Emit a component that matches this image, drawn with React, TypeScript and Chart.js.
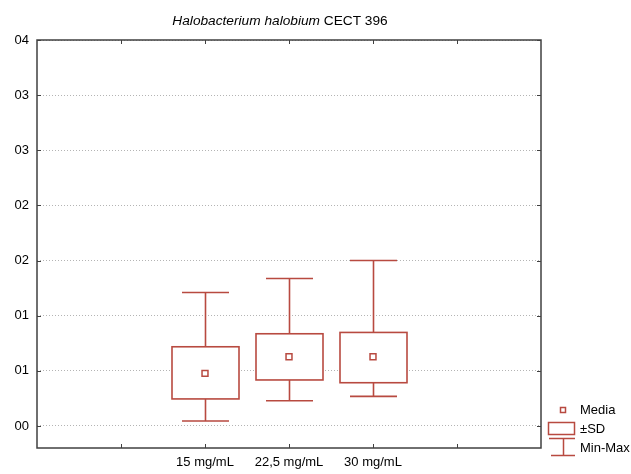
import React, { useEffect, useRef } from "react";
import { Chart, registerables } from "chart.js";

Chart.register(...registerables);

const categories = ["15 mg/mL", "22,5 mg/mL", "30 mg/mL"];
const meanValues = [0.00977, 0.01128, 0.01128];
const sdTopValues = [0.01218, 0.01336, 0.01348];
const sdBottomValues = [0.00745, 0.00917, 0.00892];
const maxValues = [0.0171, 0.01837, 0.02];
const minValues = [0.00545, 0.00729, 0.00768];

const yTickValues = [0.005, 0.01, 0.015, 0.02, 0.025, 0.03, 0.035, 0.04];
const yTickLabels = ["00", "01", "01", "02", "02", "03", "03", "04"];
const xTickValues = [-1, 0, 1, 2, 3];

const titleItalic = "Halobacterium halobium";
const titleRest = " CECT 396";
const legendLabels = ["Media", "±SD", "Min-Max"];

const RED = "#b84a40";
const AXIS = "#404040";
const FONT = "'Liberation Sans', Arial, sans-serif";
const TITLE_SIZE = 13.7;

const boxPlugin = {
  id: "boxWhisker",
  beforeDatasetsDraw(chart: any) {
    const { ctx, scales } = chart;
    const xs = scales.x;
    const ys = scales.y;
    ctx.save();
    ctx.strokeStyle = RED;
    ctx.lineWidth = 1.6;
    const boxHalf = 33.5;
    const capHalf = 23.5;
    categories.forEach((_, i) => {
      const cx = Math.round(xs.getPixelForValue(i)) + 0.5;
      const yMax = ys.getPixelForValue(maxValues[i]);
      const yMin = ys.getPixelForValue(minValues[i]);
      const yTop = ys.getPixelForValue(sdTopValues[i]);
      const yBot = ys.getPixelForValue(sdBottomValues[i]);
      ctx.beginPath();
      ctx.moveTo(cx, yTop);
      ctx.lineTo(cx, yMax);
      ctx.moveTo(cx - capHalf, yMax);
      ctx.lineTo(cx + capHalf, yMax);
      ctx.moveTo(cx, yBot);
      ctx.lineTo(cx, yMin);
      ctx.moveTo(cx - capHalf, yMin);
      ctx.lineTo(cx + capHalf, yMin);
      ctx.stroke();
      ctx.fillStyle = "#ffffff";
      ctx.fillRect(cx - boxHalf, yTop, boxHalf * 2, yBot - yTop);
      ctx.strokeRect(cx - boxHalf, yTop, boxHalf * 2, yBot - yTop);
    });
    ctx.restore();
  },
  afterDraw(chart: any) {
    const { ctx, chartArea, scales } = chart;
    const { left, right, top, bottom } = chartArea;
    ctx.save();
    // frame
    ctx.strokeStyle = AXIS;
    ctx.lineWidth = 1.5;
    ctx.strokeRect(left, top, right - left, bottom - top);
    // inward ticks
    ctx.lineWidth = 1;
    ctx.beginPath();
    xTickValues.forEach((v) => {
      const px = Math.round(scales.x.getPixelForValue(v)) + 0.5;
      ctx.moveTo(px, top);
      ctx.lineTo(px, top + 4);
      ctx.moveTo(px, bottom);
      ctx.lineTo(px, bottom - 4);
    });
    yTickValues.forEach((v) => {
      const py = Math.round(scales.y.getPixelForValue(v)) + 0.5;
      ctx.moveTo(left, py);
      ctx.lineTo(left + 4, py);
      ctx.moveTo(right, py);
      ctx.lineTo(right - 4, py);
    });
    ctx.stroke();

    // title
    ctx.fillStyle = "#000";
    ctx.textBaseline = "middle";
    ctx.textAlign = "left";
    ctx.font = `italic ${TITLE_SIZE}px ${FONT}`;
    const w1 = ctx.measureText(titleItalic).width;
    ctx.font = `${TITLE_SIZE}px ${FONT}`;
    const w2 = ctx.measureText(titleRest).width;
    const tx = 280 - (w1 + w2) / 2;
    ctx.font = `italic ${TITLE_SIZE}px ${FONT}`;
    ctx.fillText(titleItalic, tx, 21);
    ctx.font = `${TITLE_SIZE}px ${FONT}`;
    ctx.fillText(titleRest, tx + w1, 21);

    // legend
    const lx = right + 22; // marker center
    const textX = right + 39;
    ctx.font = `13px ${FONT}`;
    ctx.fillStyle = "#000";
    ctx.fillText(legendLabels[0], textX, 410);
    ctx.fillText(legendLabels[1], textX, 429);
    ctx.fillText(legendLabels[2], textX, 448);
    ctx.strokeStyle = RED;
    ctx.lineWidth = 1.5;
    ctx.fillStyle = "#fff";
    ctx.fillRect(lx - 2.5, 407.5, 5, 5);
    ctx.strokeRect(lx - 2.5, 407.5, 5, 5);
    ctx.strokeRect(lx - 14.5, 422.5, 26, 12);
    ctx.beginPath();
    ctx.moveTo(lx - 14, 438.5);
    ctx.lineTo(lx + 12, 438.5);
    ctx.moveTo(lx + 0.5, 438.5);
    ctx.lineTo(lx + 0.5, 455.5);
    ctx.moveTo(lx - 12, 455.5);
    ctx.lineTo(lx + 12, 455.5);
    ctx.stroke();
    ctx.restore();
  },
};

export default function App() {
  const ref = useRef<HTMLCanvasElement>(null);
  useEffect(() => {
    if (!ref.current) return;
    const chart = new Chart(ref.current, {
      type: "scatter",
      data: {
        datasets: [
          {
            label: legendLabels[0],
            data: meanValues.map((m, i) => ({ x: i, y: m })),
            pointStyle: "rect",
            pointRadius: 4.2,
            pointBorderWidth: 1.5,
            pointBackgroundColor: "#ffffff",
            pointBorderColor: RED,
            showLine: false,
          },
        ],
      },
      options: {
        animation: false,
        responsive: true,
        maintainAspectRatio: false,
        devicePixelRatio: 1,
        layout: { padding: { left: 0, top: 40, right: 90, bottom: 0 } },
        plugins: {
          legend: { display: false },
          title: { display: false },
          tooltip: { enabled: false },
        },
        scales: {
          x: {
            type: "linear",
            min: -2,
            max: 4,
            afterBuildTicks: (scale: any) => {
              scale.ticks = xTickValues.map((v) => ({ value: v }));
            },
            afterFit: (scale: any) => {
              scale.height = 26;
            },
            ticks: {
              autoSkip: false,
              maxRotation: 0,
              padding: 7,
              color: "#000",
              font: { family: FONT, size: 13 },
              callback: (v: any) => categories[v] ?? "",
            },
            grid: { drawOnChartArea: false, drawTicks: false },
            border: { display: false },
          },
          y: {
            type: "linear",
            min: 0.003,
            max: 0.04,
            afterBuildTicks: (scale: any) => {
              scale.ticks = yTickValues.map((v) => ({ value: v }));
            },
            afterFit: (scale: any) => {
              scale.width = 37;
            },
            ticks: {
              autoSkip: false,
              padding: 8,
              color: "#000",
              font: { family: FONT, size: 13 },
              callback: (_v: any, i: number) => yTickLabels[i] ?? "",
            },
            grid: {
              drawTicks: false,
              color: "#b4b4b4",
              lineWidth: 1,
            },
            border: { display: false, dash: [1, 2] },
          },
        },
      },
      plugins: [boxPlugin],
    } as any);
    return () => chart.destroy();
  }, []);
  return (
    <div style={{ position: "fixed", left: 0, top: 0, width: 631, height: 474, background: "#fff" }}>
      <canvas ref={ref} />
    </div>
  );
}
